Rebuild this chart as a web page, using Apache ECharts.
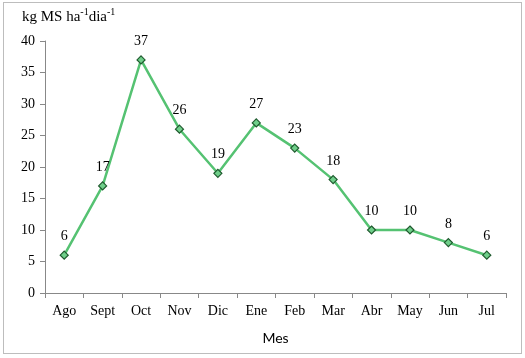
<!DOCTYPE html>
<html><head><meta charset="utf-8">
<script src="https://cdn.jsdelivr.net/npm/echarts@6/dist/echarts.min.js"></script>
<style>
html,body{margin:0;padding:0;background:#fff;}
#frame{position:absolute;left:3px;top:2px;width:517px;height:350px;border:1px solid #bdbdbd;}
#c{position:absolute;left:0;top:0;width:525px;height:358px;}
</style></head><body>
<div id="frame"></div>
<div id="c"></div>
<script>
const categories = ['Ago','Sept','Oct','Nov','Dic','Ene','Feb','Mar','Abr','May','Jun','Jul'];
const values = [6,17,37,26,19,27,23,18,10,10,8,6];
const yTicks = [0,5,10,15,20,25,30,35,40];

const chart = echarts.init(document.getElementById('c'), null, {renderer:'canvas'});
const serif = 'Liberation Serif';
chart.setOption({
  animation:false,
  backgroundColor:'transparent',
  grid:{left:45, right:19, top:41, bottom:65, containLabel:false},
  graphic:[{type:'text', left:22, top:7, style:{
    text:'{a|kg MS ha}{s|-1}{a|dia}{s|-1}',
    rich:{
      a:{fontFamily:serif, fontSize:15, fill:'#000', verticalAlign:'bottom', lineHeight:18},
      s:{fontFamily:serif, fontSize:10, fill:'#000', verticalAlign:'top', lineHeight:18, padding:[0,0,8,0]}
    }
  }}],
  xAxis:{
    type:'category', data:categories, boundaryGap:true,
    name:'Mes', nameLocation:'middle', nameGap:38,
    nameTextStyle:{fontFamily:'Lato', fontSize:14, color:'#000'},
    axisLine:{lineStyle:{color:'#888', width:1}},
    axisTick:{show:true, length:5, lineStyle:{color:'#888'}},
    axisLabel:{fontFamily:serif, fontSize:14, color:'#000', margin:11}
  },
  yAxis:{
    type:'value', min:yTicks[0], max:yTicks[yTicks.length-1], interval:5,
    axisLine:{show:true, lineStyle:{color:'#888', width:1}},
    axisTick:{show:true, length:5, lineStyle:{color:'#888'}},
    splitLine:{show:false},
    axisLabel:{fontFamily:serif, fontSize:14, color:'#000', margin:10}
  },
  series:[{
    type:'line', data:values,
    lineStyle:{color:'#55c272', width:2.5},
    symbol:'diamond', symbolSize:8,
    itemStyle:{color:'#6fcf8a', borderColor:'#1f5a2e', borderWidth:1.2},
    label:{show:true, position:'top', distance:7, fontFamily:serif, fontSize:14, color:'#000'}
  }]
});
</script>
</body></html>
